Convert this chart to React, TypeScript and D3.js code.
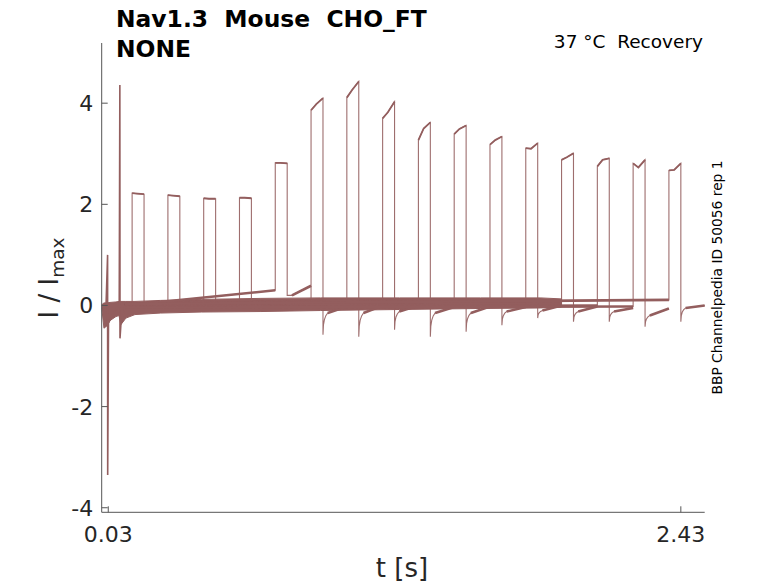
import React from 'react';
import * as d3 from 'd3';

// ---- data ----
const rectOn = [0.13, 0.28, 0.43, 0.58, 0.73, 0.88, 1.03, 1.18, 1.33, 1.48, 1.63, 1.78, 1.93, 2.08, 2.23, 2.38];
const rectOff = [0.18, 0.33, 0.48, 0.63, 0.78, 0.93, 1.08, 1.23, 1.38, 1.53, 1.68, 1.83, 1.98, 2.13, 2.28, 2.43];
const plateauStart = [2.22, 2.18, 2.12, 2.13, 2.82, 3.86, 4.11, 3.70, 3.27, 3.39, 3.18, 3.11, 2.88, 2.75, 2.81, 2.67];
const plateauMid = [2.21, 2.17, 2.11, 2.13, 2.82, 3.98, 4.26, 3.82, 3.50, 3.49, 3.27, 3.10, 2.93, 2.88, 2.73, 2.68];
const plateauEnd = [2.20, 2.16, 2.11, 2.12, 2.81, 4.10, 4.43, 4.03, 3.62, 3.56, 3.34, 3.21, 3.01, 2.91, 2.88, 2.81];
const preStart = [0.02, 0.0, 0.03, 0.01, 0.0, 0.0, 0.02, -0.02, 0.01, 0.0, 0.03, -0.01, 0.02, -0.03, -0.04, 0.03];
const preEnd = [0.03, 0.05, 0.08, 0.10, 0.30, 0.06, 0.08, 0.05, 0.10, 0.06, 0.12, 0.04, 0.10, 0.0, -0.02, 0.11];
const dipValue = [0.02, 0.05, 0.06, 0.08, 0.20, -0.58, -0.62, -0.48, -0.62, -0.52, -0.39, -0.25, -0.32, -0.32, -0.42, -0.32];
const postStart = [0.02, 0.05, 0.06, 0.08, 0.20, -0.15, -0.15, -0.12, -0.15, -0.15, -0.12, -0.10, -0.12, -0.12, -0.20, -0.05];
const postEnd = [0.0, 0.03, 0.05, 0.06, 0.39, -0.02, 0.0, 0.0, -0.03, -0.02, -0.03, 0.0, -0.02, -0.05, -0.06, 0.0];
const sweepBegin = 0.1;
const sweepTail = 0.1;

// recovery profile after the step back (time after offset, fraction of dip left)
const recoveryT = [0, 0.002, 0.006, 0.012, 0.02];
const recoveryFrac = [1, 0.55, 0.3, 0.12, 0];

// noisy baseline envelope where the sweeps overlap
const bandT = [0.004, 0.012, 0.025, 0.037, 0.062, 0.075, 0.083, 0.104, 0.142, 0.25, 0.42, 0.67, 0.92, 1.25, 1.59, 1.84, 1.93];
const bandHi = [0.02, 0.05, 0.05, 0.06, 0.07, 0.08, 0.08, 0.08, 0.08, 0.10, 0.12, 0.14, 0.15, 0.15, 0.15, 0.15, 0.13];
const bandLo = [-0.10, -0.45, -0.40, -0.30, -0.22, -0.20, -0.38, -0.25, -0.18, -0.15, -0.13, -0.12, -0.10, -0.08, -0.06, -0.05, -0.03];

// stimulus artifacts at the start of the sweeps
const artifactT = [0.004, 0.02, 0.0272, 0.0276, 0.031, 0.05, 0.076, 0.0786, 0.0792, 0.084, 0.095, 0.1];
const artifactV = [-0.05, -0.1, 1.0, -3.35, -0.35, -0.15, 0.0, 4.36, -0.65, -0.3, -0.15, 0.0];

const yTicks = [-4, -2, 0, 2, 4];
const xTicks = [0.03, 2.43];
const xTickLabels = ['0.03', '2.43'];

const titleLine1 = 'Nav1.3  Mouse  CHO_FT';
const titleLine2 = 'NONE';
const topRightText = '37 °C  Recovery';
const sideText = 'BBP Channelpedia ID 50056 rep 1';

const TRACE = '#935e5e';
const AXIS = '#555555';
const TEXT = '#262626';
const FONT = "'DejaVu Sans', sans-serif";

export default function App() {
  const W = 778;
  const H = 583;
  const x = d3.scaleLinear().domain([0.0025, 2.53]).range([101.7, 704.7]);
  const y = d3.scaleLinear().domain([-4.09, 5.19]).range([512.3, 43]);
  const line = d3.line<[number, number]>().x((d) => x(d[0])).y((d) => y(d[1]));
  const band = d3
    .area<number>()
    .x((_, i) => x(bandT[i]))
    .y0((_, i) => y(bandLo[i]))
    .y1((_, i) => y(bandHi[i]));

  const sweeps = rectOn.map((on, i) => {
    const off = rectOff[i];
    const pts: [number, number][] = [];
    pts.push([sweepBegin, preStart[i]]);
    pts.push([on, preEnd[i]]);
    pts.push([on, plateauStart[i]]);
    pts.push([on + 0.022, plateauMid[i]]);
    pts.push([off, plateauEnd[i]]);
    recoveryT.forEach((dt, j) => {
      pts.push([off + dt, postStart[i] + (dipValue[i] - postStart[i]) * recoveryFrac[j]]);
    });
    pts.push([off + sweepTail, postEnd[i]]);
    const pre: [number, number][] = [
      [sweepBegin, preStart[i]],
      [on, preEnd[i]],
    ];
    const post: [number, number][] = [
      [off + recoveryT[recoveryT.length - 1], postStart[i]],
      [off + sweepTail, postEnd[i]],
    ];
    const top: [number, number][] = [
      [on, plateauStart[i]],
      [on + 0.022, plateauMid[i]],
      [off, plateauEnd[i]],
    ];
    return { pts, pre, post, top };
  });

  const artifact: [number, number][] = artifactT.map((t, i) => [t, artifactV[i]]);

  const x0 = x.range()[0];
  const x1 = x.range()[1];
  const yb = y.range()[0];
  const yt = y.range()[1];
  const pre = { whiteSpace: 'pre' as const };

  return (
    <svg
      width={W}
      height={H}
      style={{ position: 'absolute', left: 0, top: 0, background: '#fff' }}
      fontFamily={FONT}
    >
      {/* traces */}
      <path d={band(bandT) || ''} fill={TRACE} stroke={TRACE} strokeWidth={1} />
      {sweeps.map((s, i) => (
        <g key={i}>
          <path d={line(s.pts) || ''} fill="none" stroke={TRACE} strokeWidth={1.1} strokeOpacity={0.9} />
          <path d={line(s.pre) || ''} fill="none" stroke={TRACE} strokeWidth={2.6} />
          <path d={line(s.post) || ''} fill="none" stroke={TRACE} strokeWidth={2.6} />
          <path d={line(s.top) || ''} fill="none" stroke={TRACE} strokeWidth={1.8} />
        </g>
      ))}
      <path d={line(artifact) || ''} fill="none" stroke={TRACE} strokeWidth={1.6} />

      {/* axes */}
      <line x1={x0} x2={x0} y1={yt} y2={yb} stroke={AXIS} strokeWidth={1} />
      <line x1={x0} x2={x1} y1={yb} y2={yb} stroke={AXIS} strokeWidth={1} />
      {yTicks.map((v) => (
        <g key={v}>
          <line x1={x0} x2={x0 + 6} y1={y(v)} y2={y(v)} stroke={AXIS} strokeWidth={1} />
          <text x={x0 - 8.5} y={y(v)} dy="0.36em" textAnchor="end" fontSize={22} fill={TEXT}>
            {v}
          </text>
        </g>
      ))}
      {xTicks.map((v, i) => (
        <g key={v}>
          <line x1={x(v)} x2={x(v)} y1={yb} y2={yb - 6} stroke={AXIS} strokeWidth={1} />
          <text x={x(v)} y={yb + 29.5} textAnchor="middle" fontSize={22} fill={TEXT}>
            {xTickLabels[i]}
          </text>
        </g>
      ))}

      {/* labels */}
      <text x={402} y={577} textAnchor="middle" fontSize={26} fill={TEXT} style={pre}>
        t [s]
      </text>
      <text transform="translate(58,278) rotate(-90)" textAnchor="middle" fontSize={26} fill={TEXT} style={pre}>
        I / I
        <tspan fontSize={18.5} dy={6}>
          max
        </tspan>
      </text>
      <text x={116} y={26.7} fontSize={23.4} fontWeight="bold" fill="#000" style={pre}>
        {titleLine1}
      </text>
      <text x={116} y={56.7} fontSize={23.4} fontWeight="bold" fill="#000" style={pre}>
        {titleLine2}
      </text>
      <text x={703} y={48} textAnchor="end" fontSize={18.5} fill="#000" style={pre}>
        {topRightText}
      </text>
      <text transform="translate(722,277.5) rotate(-90)" textAnchor="middle" fontSize={13.8} fill="#000" style={pre}>
        {sideText}
      </text>
    </svg>
  );
}
